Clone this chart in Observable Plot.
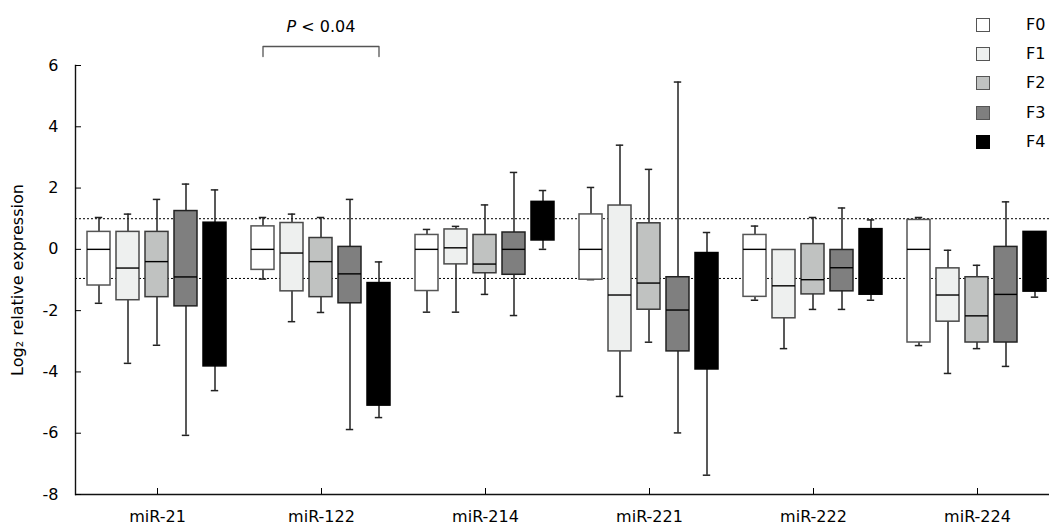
<!DOCTYPE html>
<html><head><meta charset="utf-8">
<script src="https://cdn.jsdelivr.net/npm/d3@7"></script>
<script src="https://cdn.jsdelivr.net/npm/@observablehq/plot@0.6"></script>
<style>
body{margin:0;background:#fff;font-family:"DejaVu Sans",sans-serif;}
#wrap{position:relative;width:1049px;height:526px;overflow:hidden;background:#fff;}
#legend{position:absolute;left:976px;top:18px;width:73px;}
.row{position:absolute;left:0;height:14px;width:73px;}
.sw{position:absolute;left:0;top:0;width:14px;height:14px;box-sizing:border-box;}
.lab{position:absolute;left:50px;top:-2px;font-size:16px;line-height:18px;color:#000;}
</style></head><body><div id="wrap"></div>
<script>
const mirs = ["miR-21", "miR-122", "miR-214", "miR-221", "miR-222", "miR-224"];
const levels = ["F0", "F1", "F2", "F3", "F4"];
const fills = ["#ffffff", "#eef0ef", "#c0c2c1", "#7f7f7f", "#000000"];
const boxStrokes = ["#555555", "#4a4a4a", "#3a3a3a", "#222222", "#000000"];

// rows: miRNA, columns: F0..F4
const whiskerLow = [
  [-1.76, -3.72, -3.13, -6.07, -4.61],
  [-0.97, -2.36, -2.06, -5.88, -5.49],
  [-2.05, -2.05, -1.47, -2.16, 0.00],
  [-0.99, -4.80, -3.03, -5.99, -7.37],
  [-1.66, -3.24, -1.96, -1.96, -1.66],
  [-3.14, -4.05, -3.24, -3.82, -1.56]
];
const q1 = [
  [-1.18, -1.66, -1.56, -1.86, -3.82],
  [-0.67, -1.37, -1.56, -1.76, -5.10],
  [-1.36, -0.49, -0.78, -0.83, 0.29],
  [-0.99, -3.33, -1.97, -3.33, -3.92],
  [-1.55, -2.25, -1.47, -1.37, -1.48],
  [-3.04, -2.36, -3.04, -3.04, -1.38]
];
const medians = [
  [0.00, -0.61, -0.40, -0.90, -1.50],
  [0.00, -0.12, -0.40, -0.80, -2.90],
  [0.00, 0.05, -0.48, 0.00, 0.90],
  [0.00, -1.49, -1.10, -1.98, -1.80],
  [0.00, -1.19, -0.99, -0.60, -0.30],
  [0.00, -1.49, -2.17, -1.47, -0.50]
];
const q3 = [
  [0.57, 0.57, 0.57, 1.25, 0.87],
  [0.75, 0.86, 0.37, 0.08, -1.10],
  [0.47, 0.65, 0.47, 0.55, 1.55],
  [1.14, 1.43, 0.85, -0.91, -0.12],
  [0.47, -0.02, 0.17, -0.02, 0.66],
  [0.96, -0.62, -0.91, 0.08, 0.57]
];
const whiskerHigh = [
  [1.04, 1.15, 1.63, 2.13, 1.94],
  [1.04, 1.15, 1.04, 1.63, -0.41],
  [0.65, 0.75, 1.45, 2.51, 1.92],
  [2.02, 3.40, 2.61, 5.46, 0.55],
  [0.76, -0.02, 1.04, 1.35, 0.96],
  [1.04, -0.03, -0.52, 1.55, 0.57]
];
const yTicks = [-8, -6, -4, -2, 0, 2, 4, 6];
const refLines = [1, -0.95];
const bracketGroup = "miR-122";
const bracketPoints = [["F0", 6.29], ["F0", 6.62], ["F4", 6.62], ["F4", 6.29]];
const pText = "P < 0.04";
const pTextY = 7.27;

const rows = mirs.flatMap((m, i) => levels.map((f, j) => ({
  mir: m, level: f,
  lo: whiskerLow[i][j], q1: q1[i][j], med: medians[i][j], q3: q3[i][j], hi: whiskerHigh[i][j],
  fill: fills[j], stroke: boxStrokes[j]
})));
const bracket = bracketPoints.map(([x, y]) => ({mir: bracketGroup, x, y}));

const chart = Plot.plot({
  width: 1049, height: 526,
  marginTop: 65, marginBottom: 32, marginLeft: 74, marginRight: 0,
  style: {fontFamily: "DejaVu Sans", fontSize: "16px", background: "white", color: "black", overflow: "visible"},
  fx: {domain: mirs, range: [74, 1060], padding: 0, label: null},
  x: {domain: levels, paddingInner: 0.2, paddingOuter: 0.405, axis: null},
  y: {domain: [-8, 6], label: null},
  color: {type: "identity"},
  facet: {marginTop: 0, marginBottom: 0, marginLeft: 0, marginRight: 0},
  marks: [
    Plot.ruleY(refLines, {y: d => d, stroke: "#000", strokeWidth: 1, strokeDasharray: "2,2"}),
    Plot.ruleY([-8], {stroke: "#111", strokeWidth: 1.4}),
    Plot.frame({anchor: "left", facetAnchor: "left", stroke: "#111", strokeWidth: 1.4}),
    Plot.axisY({ticks: yTicks, anchor: "left", tickSize: -6, tickPadding: 23, tickFormat: d => String(d), fontSize: 16,
      label: "Log₂ relative expression", labelAnchor: "center", labelArrow: "none", labelOffset: 64}),
    Plot.axisFx({anchor: "bottom", tickSize: -6, tickPadding: 22, fontSize: 16, label: null}),
    Plot.ruleX(rows, {fx: "mir", x: "level", y1: "lo", y2: "hi", stroke: "#222", strokeWidth: 1.5}),
    Plot.tickY(rows, {fx: "mir", x: "level", y: "lo", stroke: "#222", strokeWidth: 1.5, insetLeft: 7.8, insetRight: 7.8}),
    Plot.tickY(rows, {fx: "mir", x: "level", y: "hi", stroke: "#222", strokeWidth: 1.5, insetLeft: 7.8, insetRight: 7.8}),
    Plot.barY(rows, {fx: "mir", x: "level", y1: "q1", y2: "q3", fill: "fill", stroke: "stroke", strokeWidth: 1.5}),
    Plot.tickY(rows, {fx: "mir", x: "level", y: "med", stroke: "#000", strokeWidth: 1.4}),
    Plot.line(bracket, {fx: "mir", x: "x", y: "y", stroke: "#555", strokeWidth: 1.3}),
    Plot.text([{mir: bracketGroup, x: "F2", y: pTextY, t: pText}], {fx: "mir", x: "x", y: "y", text: "t", fontSize: 16, fill: "#000"})
  ]
});

const wrap = document.getElementById("wrap");
wrap.appendChild(chart);

// italic P in annotation
chart.querySelectorAll("text").forEach(el => {
  if (el.textContent === pText) {
    const target = el.querySelector("tspan") || el;
    target.textContent = "";
    const ns = "http://www.w3.org/2000/svg";
    const a = document.createElementNS(ns, "tspan");
    a.setAttribute("font-style", "italic");
    a.textContent = pText.slice(0, 1);
    const b = document.createElementNS(ns, "tspan");
    b.textContent = "\u00a0" + pText.slice(2);
    target.appendChild(a); target.appendChild(b);
  }
});

// legend
const legend = document.createElement("div");
legend.id = "legend";
levels.forEach((f, j) => {
  const row = document.createElement("div");
  row.className = "row";
  row.style.top = (j * 29.2) + "px";
  const sw = document.createElement("div");
  sw.className = "sw";
  sw.style.background = fills[j];
  sw.style.border = "1.3px solid " + (j === 4 ? "#000" : "#555");
  const lab = document.createElement("div");
  lab.className = "lab";
  lab.textContent = f;
  row.appendChild(sw); row.appendChild(lab);
  legend.appendChild(row);
});
wrap.appendChild(legend);
</script></body></html>
